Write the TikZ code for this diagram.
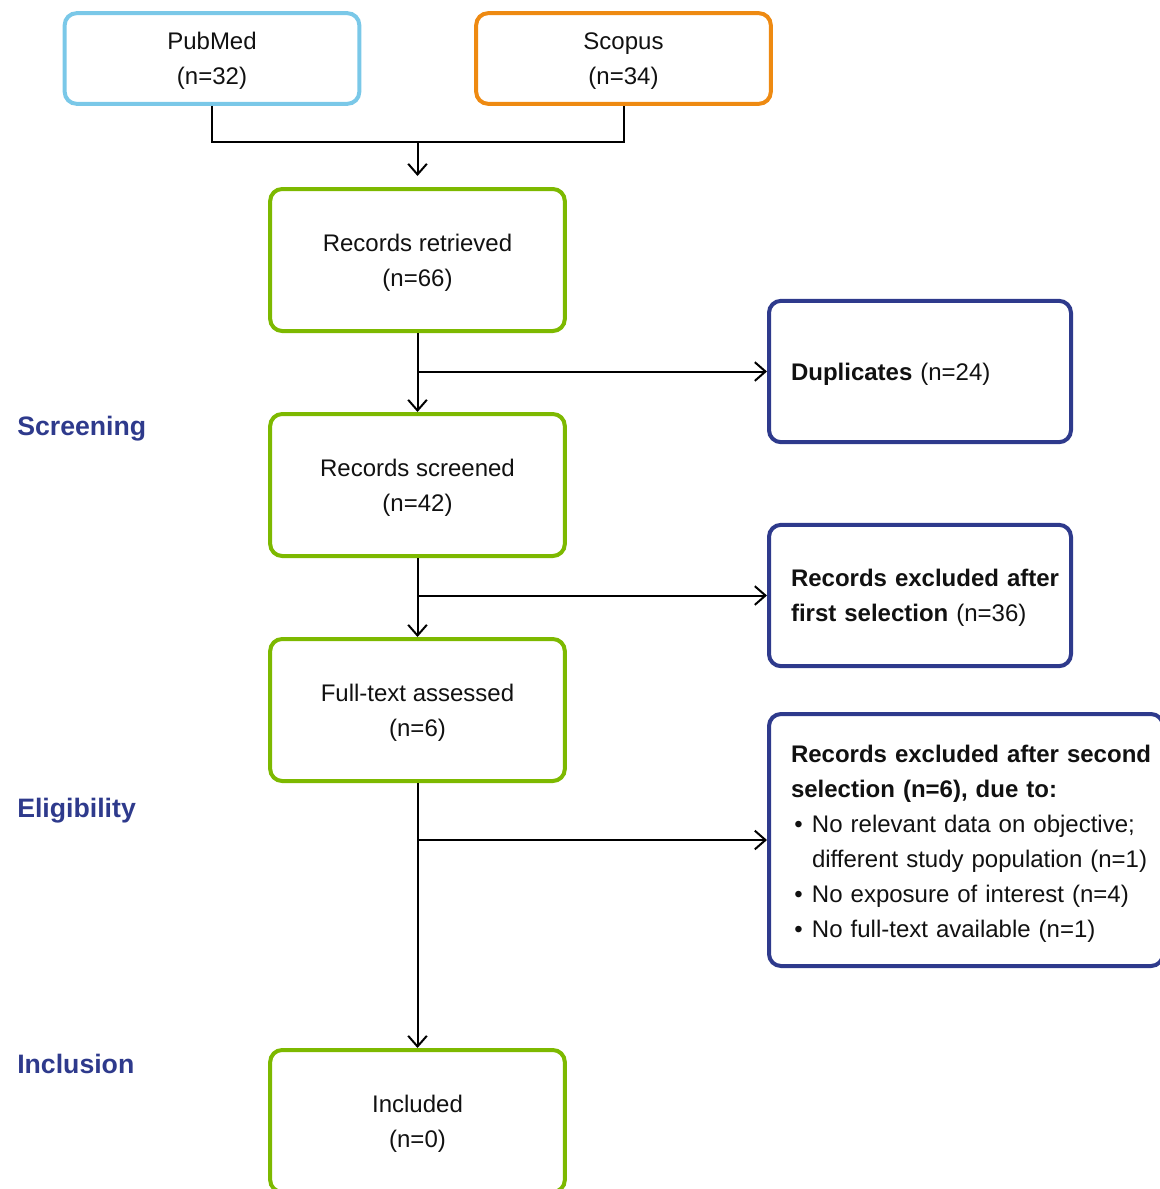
\documentclass[tikz,border=0pt]{standalone}
\usepackage{fontspec}
\setmainfont{Liberation Sans}
\usetikzlibrary{arrows.meta}
\definecolor{cpub}{HTML}{7AC8E8}
\definecolor{csco}{HTML}{EE8A12}
\definecolor{cgrn}{HTML}{7DB900}
\definecolor{cblu}{HTML}{2E3A8C}
\definecolor{ctxt}{HTML}{111111}
\newcommand{\bitem}{\makebox[15.75pt][l]{\hspace{2.5pt}•}}
\begin{document}
\begin{tikzpicture}[x=0.75pt,y=-0.75pt,
  box/.style={draw, line width=3pt, rounded corners=9pt, align=center,
    text=ctxt, font=\fontsize{18}{26.25}\selectfont, inner sep=0pt},
  srcbox/.style={box, text depth=0pt, minimum width=221pt, minimum height=68pt},
  mainbox/.style={box, text depth=0pt, draw=cgrn, minimum width=221pt, minimum height=106.5pt},
  exbox/.style={box, draw=cblu, align=left, inner xsep=16.5pt,
    minimum width=226.5pt, minimum height=106pt, text width=193.5pt},
  conn/.style={draw=black, line width=1.5pt},
  arr/.style={conn, -{Straight Barb[length=8pt,width=14pt,line width=1.5pt]}},
  phase/.style={anchor=west, inner sep=0pt, text=cblu, text depth=0pt,
    font=\fontsize{20}{24}\selectfont\bfseries}
]
\useasboundingbox (0,0) rectangle (1160,1189);
\clip (0,0) rectangle (1160,1189);

\node[srcbox, draw=cpub] (pub) at (212,58.5) {PubMed\\(n=32)};
\node[srcbox, draw=csco] (sco) at (623.5,58.5) {Scopus\\(n=34)};

\node[mainbox] (ret) at (417.5,260) {Records retrieved\\(n=66)};
\node[mainbox] (scr) at (417.5,485) {Records screened\\(n=42)};
\node[mainbox] (ful) at (417.5,710) {Full-text assessed\\(n=6)};
\node[mainbox] (inc) at (417.5,1121) {Included\\(n=0)};

\node[exbox, text depth=0pt] (dup) at (920,371.5) {\mbox{\textbf{Duplicates} (n=24)}};
\node[exbox, text depth=26pt] (ex1) at (920,595.5) {\mbox{\textbf{Records excluded after}}\\\mbox{\textbf{first selection} (n=36)}};
\node[exbox, text depth=130pt, minimum width=295.5pt, minimum height=189pt, text width=262.5pt] (ex2) at (966,840)
  {\mbox{\textbf{Records excluded after second}}\\
   \mbox{\textbf{selection (n=6), due to:}}\\
   \mbox{\bitem No relevant data on objective;}\\
   \mbox{\hspace*{15.75pt}different study population (n=1)}\\
   \mbox{\bitem No exposure of interest (n=4)}\\
   \mbox{\bitem No full-text available (n=1)}};

\node[phase] (lscr) at (17,426) {Screening};
\node[phase] (lelg) at (17,808) {Eligibility};
\node[phase] (linc) at (17,1064) {Inclusion};

\coordinate (j1) at (417.5,142);
\coordinate (j2) at (417.5,176);
\draw[conn] (pub.south) |- (j1) -| (sco.south);
\draw[arr] (j1) -- (j2);

\draw[arr] (ret.south) -- (scr.north);
\draw[arr] (ret.south |- dup.west) -- (dup.west);
\draw[arr] (scr.south) -- (ful.north);
\draw[arr] (scr.south |- ex1.west) -- (ex1.west);
\draw[arr] (ful.south) -- (inc.north);
\draw[arr] (ful.south |- ex2.west) -- (ex2.west);
\end{tikzpicture}
\end{document}
